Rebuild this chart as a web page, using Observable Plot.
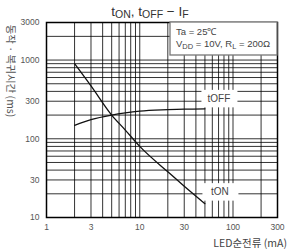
<!DOCTYPE html>
<html><head><meta charset="utf-8">
<script src="https://cdn.jsdelivr.net/npm/d3@7"></script>
<script src="https://cdn.jsdelivr.net/npm/@observablehq/plot@0.6"></script>
<style>body{margin:0;background:#fff} svg{display:block}</style>
</head><body><div id="chart"></div>
<script>
const current = [2, 3, 5, 7, 10, 20, 30, 50];
const tOn  = [900, 470, 200, 129, 80, 38, 25, 15];
const tOff = [148, 175, 200, 213, 224, 234, 238, 240];
const xTicks = [1, 3, 10, 30, 100, 300];
const yTicks = [10, 30, 100, 300, 1000, 3000];
const xGrid = [2,3,4,5,6,7,8,9,10,20,30,40,50,60,70,80,90,100,200];
const yGrid = [20,30,40,50,60,70,80,90,100,200,300,400,500,600,700,800,900,1000,2000];
const seriesLabels = ["tOFF", "tON"];

const rows = current.map((c, i) => ({c, on: tOn[i], off: tOff[i]}));
const last = rows[rows.length - 1];
const W = 288, H = 251, mL = 46, mR = 11, mT = 22, mB = 34;
const font = "'Liberation Sans', Arial, sans-serif";
const kfont = "'Noto Sans CJK KR', sans-serif";

const plot = Plot.plot({
  width: W, height: H,
  marginLeft: mL, marginRight: mR, marginTop: mT, marginBottom: mB,
  style: {fontFamily: font, background: "white", overflow: "visible"},
  x: {type: "log", domain: [1, 300]},
  y: {type: "log", domain: [10, 3000]},
  marks: [
    Plot.ruleX(xGrid, {stroke: "#000", strokeWidth: 1, strokeOpacity: 0.8}),
    Plot.ruleY(yGrid, {stroke: "#000", strokeWidth: 1, strokeOpacity: 0.8}),
    Plot.frame({stroke: "#000", strokeWidth: 1.5}),
    Plot.axisX({ticks: xTicks, tickSize: 0, tickPadding: 6, tickFormat: d => String(d), fontSize: 8.5, fill: "#555", label: null}),
    Plot.axisY({ticks: yTicks, tickSize: 0, tickPadding: 7, tickFormat: d => String(d), fontSize: 8.5, fill: "#555", label: null}),
    Plot.line(rows, {x: "c", y: "off", curve: "monotone-x", stroke: "#111", strokeWidth: 1.3}),
    Plot.line(rows, {x: "c", y: "on", curve: "monotone-x", stroke: "#111", strokeWidth: 1.3}),
    Plot.text([last], {x: "c", y: "off", text: () => seriesLabels[0], dx: 14, dy: -10, fontSize: 10, fill: "#444"}),
    Plot.text([last], {x: "c", y: "on", text: () => seriesLabels[1], dx: 15, dy: -11.5, fontSize: 10, fill: "#444"})
  ]
});
document.getElementById("chart").appendChild(plot);
const svg = d3.select(plot);
const sx = plot.scale("x"), sy = plot.scale("y");

// white boxes behind series labels (positioned through the plot's scales)
const boxSpecs = [
  {label: seriesLabels[0], cx: sx.apply(last.c) + 14, cy: sy.apply(last.off) - 10},
  {label: seriesLabels[1], cx: sx.apply(last.c) + 15, cy: sy.apply(last.on) - 11.5}
];
svg.selectAll("text").filter(function() { return seriesLabels.includes(this.textContent); })
  .each(function() {
    const spec = boxSpecs.find(s => s.label === this.textContent);
    const gEl = this.parentNode;
    d3.select(gEl.parentNode).insert("rect", () => gEl)
      .attr("x", spec.cx - 17).attr("y", spec.cy - 8.5)
      .attr("width", 36).attr("height", 17.5)
      .style("fill", "#ffffff").style("stroke", "none");
  });

// condition box top-right
const bx = W - mR - 107, by = mT;
const g = svg.append("g");
g.append("rect").attr("x", bx).attr("y", by).attr("width", 107).attr("height", 33)
  .style("fill", "#ffffff").style("stroke", "#777").style("stroke-width", 1.3);
const t1 = g.append("text").attr("x", bx + 6).attr("y", by + 13).attr("font-size", 9.5)
  .attr("text-anchor", "start").style("fill", "#444").attr("font-family", font);
t1.text("Ta = 25℃");
const t2 = g.append("text").attr("x", bx + 6).attr("y", by + 25).attr("font-size", 9.5)
  .attr("text-anchor", "start").style("fill", "#444").attr("font-family", font);
t2.append("tspan").text("V");
t2.append("tspan").attr("font-size", 7.5).attr("dy", 2).text("DD");
t2.append("tspan").attr("dy", -2).text(" = 10V, R");
t2.append("tspan").attr("font-size", 7.5).attr("dy", 2).text("L");
t2.append("tspan").attr("dy", -2).text(" = 200Ω");

// title
const tt = svg.append("text").attr("x", 150).attr("y", 16).attr("text-anchor", "middle")
  .attr("font-size", 13.5).style("fill", "#333").attr("font-family", font);
tt.append("tspan").text("t");
tt.append("tspan").attr("font-size", 10.5).attr("dy", 2).text("ON");
tt.append("tspan").attr("dy", -2).text(", t");
tt.append("tspan").attr("font-size", 10.5).attr("dy", 2).text("OFF");
tt.append("tspan").attr("dy", -2).text(" − I");
tt.append("tspan").attr("font-size", 10.5).attr("dy", 2).text("F");

// axis labels
svg.append("text").attr("transform", "translate(11.5,71) rotate(90)").attr("text-anchor", "middle")
  .attr("dominant-baseline", "central")
  .attr("font-size", 10.5).style("fill", "#555").attr("font-family", kfont)
  .text("동작 · 복귀시간 (ms)");
svg.append("text").attr("x", W - 1).attr("y", 247).attr("text-anchor", "end")
  .attr("font-size", 10.5).style("fill", "#444").attr("font-family", kfont)
  .text("LED순전류 (mA)");
</script></body></html>
